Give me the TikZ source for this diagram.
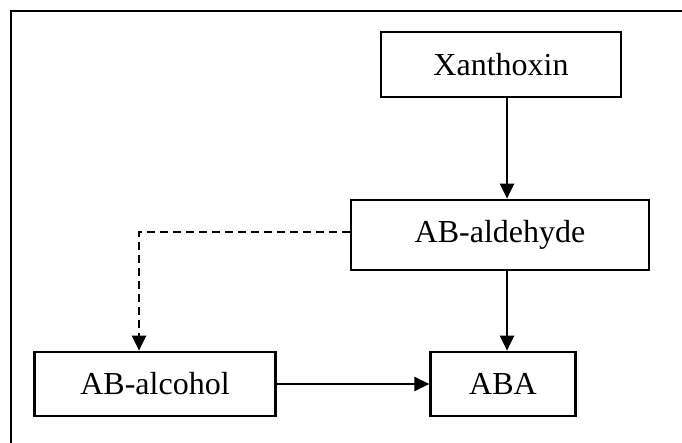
\documentclass[tikz,border=0pt]{standalone}
\usepackage{fontspec}
\setmainfont{Liberation Serif}
\usetikzlibrary{arrows.meta}
\begin{document}
\begin{tikzpicture}[x=1pt,y=-1pt,
  stepbox/.style={draw, line width=2.2pt, inner sep=0pt, align=center,
    font=\fontsize{32}{38}\selectfont},
  flow/.style={line width=2.2pt, -{Triangle[length=15pt,width=14pt]}},
  dashflow/.style={flow, dash pattern=on 8pt off 5pt}]
\useasboundingbox (0,0) rectangle (682,443);
\draw[line width=2.2pt] (683,11) -- (11,11) -- (11,444);
\node[stepbox, minimum width=240pt, minimum height=65pt] (xan) at (501,64.5) {Xanthoxin};
\node[stepbox, minimum width=298pt, minimum height=70.5pt] (ald) at (500,235) {AB-aldehyde};
\node[stepbox, minimum width=241pt, minimum height=64.5pt] (alc) at (155,384) {AB-alcohol};
\node[stepbox, minimum width=145pt, minimum height=64.5pt] (aba) at (503,384) {ABA};
\coordinate (col) at (507,0);
\coordinate (dcol) at (139,0);
\draw[flow] (xan.south -| col) -- (ald.north -| col);
\draw[flow] (ald.south -| col) -- (aba.north -| col);
\draw[flow] (alc.east) -- (aba.west);
\draw[dashflow] ([yshift=3pt]ald.west) -| (alc.north -| dcol);
\end{tikzpicture}
\end{document}
